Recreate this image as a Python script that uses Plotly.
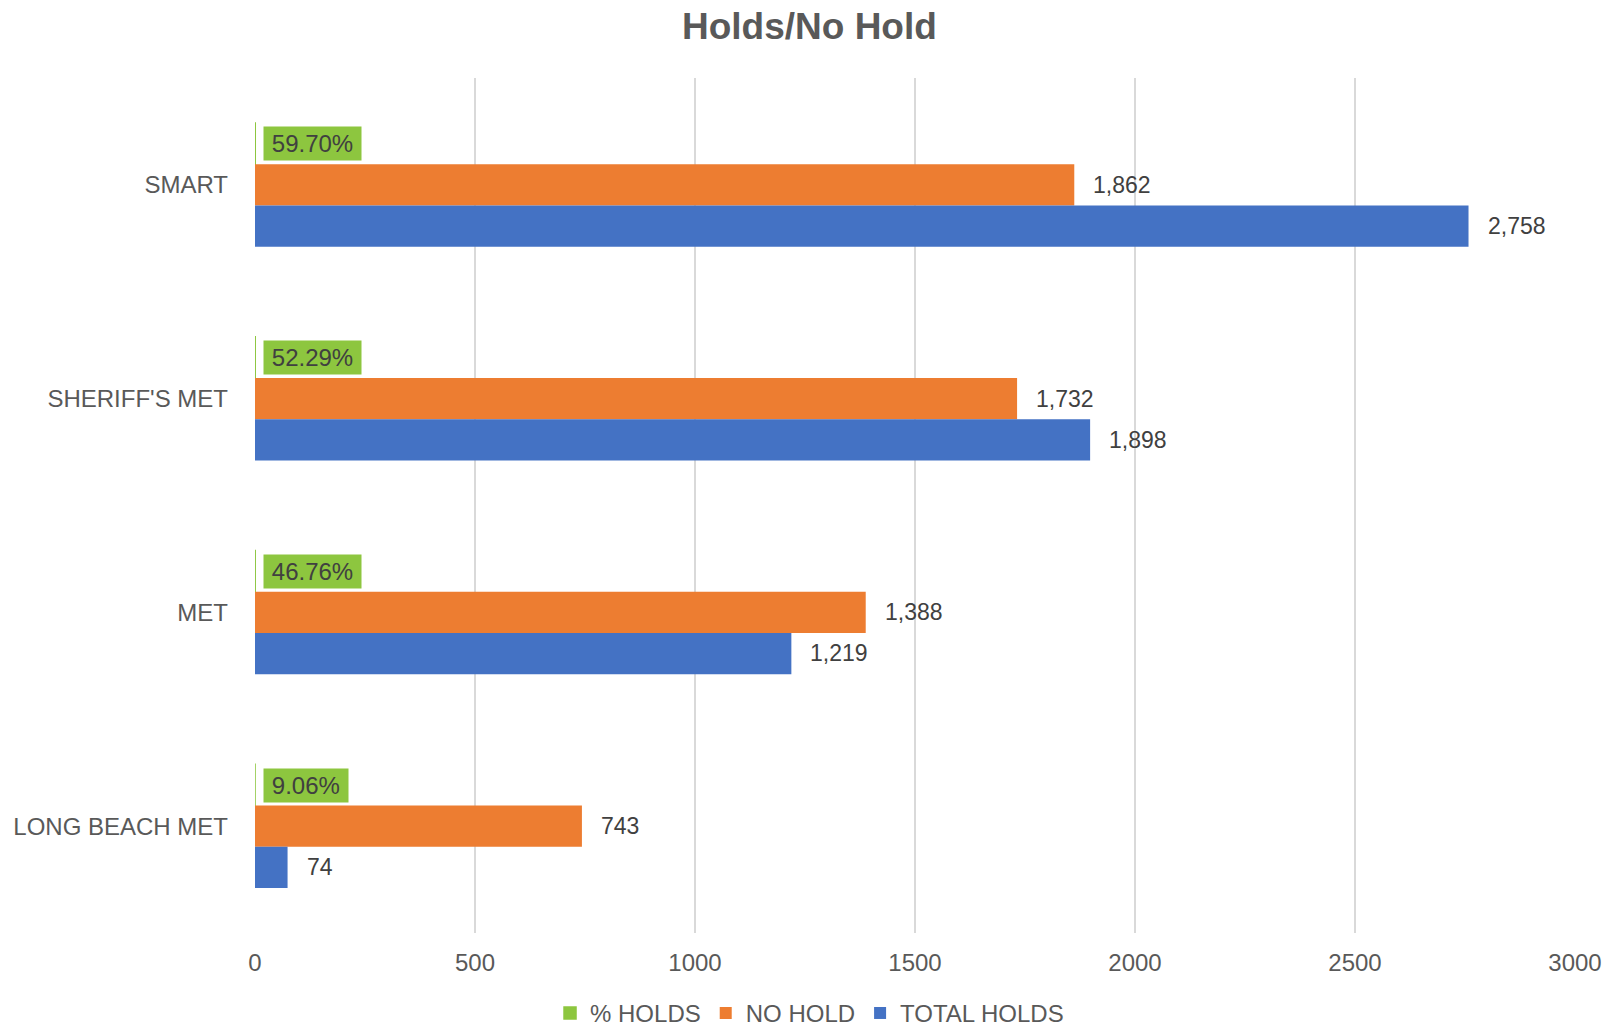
import plotly.graph_objects as go

# Data
categories = ["SMART", "SHERIFF'S MET", "MET", "LONG BEACH MET"]
pct_holds = [0.5970, 0.5229, 0.4676, 0.0906]
no_hold = [1862, 1732, 1388, 743]
total_holds = [2758, 1898, 1219, 74]
x_ticks = [0, 500, 1000, 1500, 2000, 2500, 3000]

FONT = "Liberation Sans, Arial, sans-serif"
GREEN = "#8DC63F"
ORANGE = "#ED7D31"
BLUE = "#4472C4"
TEXT_GRAY = "#595959"
LABEL_DARK = "#404040"

fig = go.Figure()

fig.add_trace(go.Bar(
    name="% HOLDS", y=categories, x=pct_holds, orientation="h",
    marker=dict(color=GREEN, line=dict(color=GREEN, width=1.5)),
    hoverinfo="skip",
))
fig.add_trace(go.Bar(
    name="NO HOLD", y=categories, x=no_hold, orientation="h",
    marker=dict(color=ORANGE, line=dict(width=0)),
    hoverinfo="skip",
))
fig.add_trace(go.Bar(
    name="TOTAL HOLDS", y=categories, x=total_holds, orientation="h",
    marker=dict(color=BLUE, line=dict(width=0)),
    hoverinfo="skip",
))

# Value labels beside each bar
annotations = []
BAR_STEP = 41
for cat, p, n, t in zip(categories, pct_holds, no_hold, total_holds):
    annotations.append(dict(
        x=p, y=cat, xref="x", yref="y", xanchor="left", yanchor="middle",
        xshift=8, yshift=BAR_STEP,
        text="\u2009" + f"{p:.2%}" + "\u2009", showarrow=False,
        bgcolor=GREEN, borderpad=3,
        font=dict(family=FONT, size=24, color=LABEL_DARK),
    ))
    annotations.append(dict(
        x=n, y=cat, xref="x", yref="y", xanchor="left", yanchor="middle",
        xshift=17, yshift=0,
        text=f"{n:,}", showarrow=False,
        font=dict(family=FONT, size=23, color=LABEL_DARK),
    ))
    annotations.append(dict(
        x=t, y=cat, xref="x", yref="y", xanchor="left", yanchor="middle",
        xshift=17, yshift=-BAR_STEP,
        text=f"{t:,}", showarrow=False,
        font=dict(family=FONT, size=23, color=LABEL_DARK),
    ))

fig.update_layout(
    width=1606, height=1026,
    margin=dict(l=255, r=31, t=78, b=93, autoexpand=False),
    paper_bgcolor="white", plot_bgcolor="white",
    barmode="group", bargap=0.42, bargroupgap=0,
    font=dict(family=FONT, color=TEXT_GRAY),
    title=dict(
        text="<b>Holds/No Hold</b>", x=0.504, xanchor="center",
        y=0.975, yanchor="middle", yref="container",
        font=dict(family=FONT, size=37, color=TEXT_GRAY),
    ),
    xaxis=dict(
        range=[0, 3000], tickvals=x_ticks, ticktext=[str(v) for v in x_ticks],
        showgrid=True, gridcolor="#D9D9D9", gridwidth=1.5,
        zeroline=False, showline=False, ticks="",
        tickfont=dict(family=FONT, size=24, color=TEXT_GRAY),
        ticklabelstandoff=13, fixedrange=True,
    ),
    yaxis=dict(
        categoryorder="array", categoryarray=categories, autorange="reversed",
        showgrid=False, zeroline=False, showline=False, ticks="",
        tickfont=dict(family=FONT, size=24, color=TEXT_GRAY),
        ticklabelstandoff=26, fixedrange=True,
    ),
    legend=dict(
        orientation="h", x=0.2235, xanchor="left", y=-0.094, yanchor="middle",
        font=dict(family=FONT, size=24, color=TEXT_GRAY),
        itemwidth=30, traceorder="normal",
    ),
    annotations=annotations,
    showlegend=True,
)

fig.write_html("out.html")
